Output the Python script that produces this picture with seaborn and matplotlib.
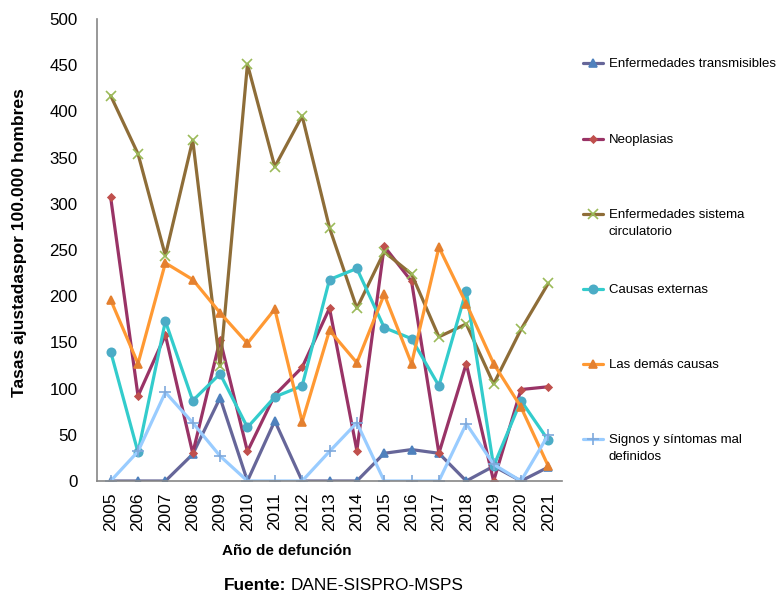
import numpy as np
import pandas as pd
import seaborn as sns
import matplotlib
matplotlib.use("Agg")
import matplotlib.pyplot as plt
from matplotlib.ticker import MultipleLocator, FixedLocator

# ---------------- data ----------------
years = list(range(2005, 2022))
transmisibles = [0, 0, 0, 29, 90, 0, 65, 0, 0, 0, 30, 34, 30, 0, 16, 0, 15]
neoplasias = [307, 92, 158, 30, 153, 32, 93, 123, 187, 33, 254, 216, 30, 127, 0, 99, 102]
circulatorio = [417, 354, 244, 369, 124, 451, 340, 395, 274, 187, 248, 224, 156, 170, 105, 164, 214]
externas = [140, 31, 173, 87, 116, 58, 91, 103, 218, 230, 166, 154, 103, 206, 16, 87, 44]
demas = [196, 127, 236, 218, 182, 149, 186, 64, 163, 128, 202, 127, 253, 192, 127, 80, 16]
signos = [0, 32, 96, 63, 27, 0, 0, 0, 32, 63, 0, 0, 0, 62, 18, 0, 50]

labels = ["Enfermedades transmisibles", "Neoplasias",
          "Enfermedades sistema\ncirculatorio", "Causas externas",
          "Las demás causas", "Signos y síntomas mal\ndefinidos"]
series = [transmisibles, neoplasias, circulatorio, externas, demas, signos]

# styles
line_colors = ["#666699", "#993366", "#8E6D38", "#33CCCC", "#FF9933", "#99CCFF"]
markers = ["^", "D", "x", "o", "^", "+"]
marker_face = ["#4F81BD", "#C0504D", "#9BBB59", "#4BACC6", "#E4802F", "#7FA9DC"]
marker_size = [6, 3.5, 7, 6, 6, 8]

sns.set_style("white")
plt.rcParams["font.family"] = ["Liberation Sans", "DejaVu Sans"]
plt.rcParams["text.color"] = "black"
plt.rcParams["axes.labelcolor"] = "black"

fig = plt.figure(figsize=(7.76, 5.99), dpi=100)
W, H = 776, 599
ax = fig.add_axes([97 / W, 1 - 481 / H, (562 - 97) / W, (481 - 19) / H])

df = pd.DataFrame({"year": years})
for vals, lab, lc, m, mf, ms in zip(series, labels, line_colors, markers, marker_face, marker_size):
    df[lab] = vals
    sns.lineplot(data=df, x="year", y=lab, ax=ax, color=lc, linewidth=2.3,
                 marker=m, markerfacecolor=mf, markeredgecolor=mf,
                 markeredgewidth=1.2, markersize=ms, legend=False)

ax.set_xlim(2004.5, 2021.5)
ax.set_ylim(0, 500)
ax.yaxis.set_major_locator(MultipleLocator(50))
ax.xaxis.set_major_locator(FixedLocator(years))
ax.xaxis.set_minor_locator(FixedLocator(np.arange(2004.5, 2022, 1.0)))
ax.set_xticklabels([str(y) for y in years], rotation=90, fontsize=12.5)
ax.tick_params(axis="x", which="major", length=0, pad=8, labelcolor="black")
ax.tick_params(axis="x", which="minor", length=6, width=1, color="#868686", direction="out")
ax.tick_params(axis="y", which="major", length=6, width=1, color="#868686",
               direction="out", labelsize=12.2, pad=8, labelcolor="black")
ax.set_xlabel("")
ax.set_ylabel("")
for s in ["top", "right"]:
    ax.spines[s].set_visible(False)
for s in ["left", "bottom"]:
    ax.spines[s].set_color("#868686")
    ax.spines[s].set_linewidth(1.2)

# axis titles
fig.text(20 / W, 1 - 243 / H, "Tasas ajustadaspor 100.000 hombres", rotation=90,
         ha="center", va="center", fontsize=12.6, fontweight="bold")
fig.text(287 / W, 1 - 551 / H, "Año de defunción", ha="center", va="center",
         fontsize=11, fontweight="bold")

# source
t1 = fig.text(224 / W, 1 - 586 / H, "Fuente:", ha="left", va="center",
              fontsize=12.4, fontweight="bold")
fig.canvas.draw()
r = fig.canvas.get_renderer()
bb = t1.get_window_extent(r)
fig.text((bb.x1 + 4) / W, 1 - 586 / H, "DANE-SISPRO-MSPS", ha="left", va="center",
         fontsize=12.4)

# legend entries (each one on a fixed slot)
legend_y = [63, 139, 214, 289, 364, 439]
lines = ax.get_lines()
for h, lab, yc in zip(lines, labels, legend_y):
    leg = fig.legend([h], [lab], loc="upper left",
                     bbox_to_anchor=(583 / W, 1 - (yc - 5) / H),
                     frameon=False, borderpad=0, borderaxespad=0,
                     handlelength=1.5, handletextpad=0.45, fontsize=9.5)
    for t in leg.get_texts():
        t.set_linespacing(1.58)
    if "\n" in lab:
        ln = leg.get_lines()[0]
        ln.set_ydata(np.asarray(ln.get_ydata(), dtype=float) + 6.8)

fig.savefig("out.png", dpi=100)
